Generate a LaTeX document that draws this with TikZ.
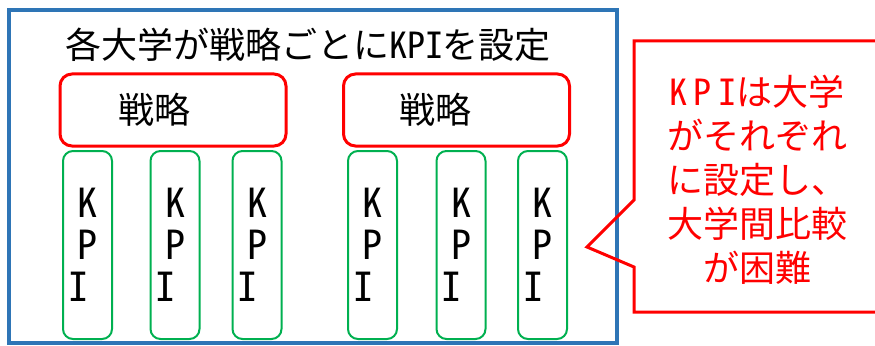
\documentclass[tikz,border=0pt]{standalone}
\usepackage{fontspec}
\setmainfont{Noto Sans CJK JP}
\newfontfamily\kpifont[RawFeature=+hwid]{Noto Sans CJK JP}
\definecolor{frameblue}{HTML}{2E75B6}
\definecolor{kpired}{HTML}{FF0000}
\definecolor{kpigreen}{HTML}{00B050}
\newcommand{\kpiw}[1]{{\kpifont #1}}
\begin{document}
\begin{tikzpicture}[x=0.75pt,y=-0.75pt,
  frame/.style={draw=frameblue, line width=3pt, inner sep=0pt, minimum width=456pt, minimum height=249.75pt},
  stratbox/.style={draw=kpired, line width=2.25pt, rounded corners=9pt, minimum width=169.5pt, minimum height=54pt, inner sep=0pt},
  kpibox/.style={draw=kpigreen, line width=1.5pt, rounded corners=7.5pt, minimum width=36.75pt, minimum height=141pt, inner sep=0pt},
  bigtext/.style={font=\fontsize{27pt}{33pt}\selectfont, inner sep=0pt},
  kpitext/.style={font=\kpifont\fontsize{30pt}{31.5pt}\selectfont, align=center, inner sep=0pt},
  callout/.style={draw=kpired, line width=2.25pt, line join=miter},
  callouttext/.style={text=kpired, font=\fontsize{27pt}{33pt}\selectfont, align=center, inner sep=0pt}
]
\useasboundingbox (0,0) rectangle (875,346);
\node[frame] (frame) at (313,176.5) {};
\node[bigtext] (title) at (308,45) {各大学が戦略ごとに\kpiw{ＫＰＩ}を設定};
\node[stratbox] (s1) at (173,110) {};
\node[bigtext] (s1t) at (154,110) {戦略};
\node[stratbox] (s2) at (456.5,110) {};
\node[bigtext] (s2t) at (435,110) {戦略};
\foreach \n/\x in {k1/87.5,k2/175,k3/257,k4/372.5,k5/461,k6/542.5}{
  \node[kpibox] (\n) at (\x,245) {};
  \node[kpitext] (\n t) at (\x,245) {Ｋ\\Ｐ\\Ｉ\kern14pt};
}
\draw[callout] (877,41) -- (634,41) -- (634,200) -- (587,247) -- (634,267) -- (634,312) -- (877,312);
\node[callouttext] (note) at (757,180) {\kpiw{Ｋ\kern5pt Ｐ\kern5pt Ｉ}は大学\\がそれぞれ\\に設定し、\\大学間比較\\が困難};
\end{tikzpicture}
\end{document}
